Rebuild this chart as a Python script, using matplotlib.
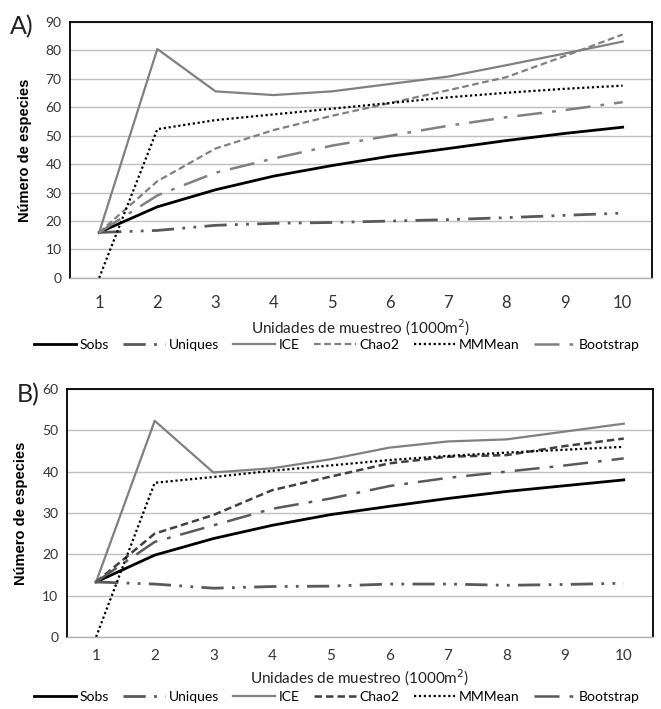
import matplotlib
matplotlib.use("Agg")
import matplotlib.pyplot as plt
import numpy as np

units = [1, 2, 3, 4, 5, 6, 7, 8, 9, 10]
series_names = ["Sobs", "Uniques", "ICE", "Chao2", "MMMean", "Bootstrap"]

# panel A
sobs_a = [16, 25, 31, 35.8, 39.5, 42.8, 45.5, 48.3, 50.8, 53]
uniques_a = [16, 16.7, 18.5, 19.2, 19.5, 20, 20.5, 21.2, 22, 22.8]
ice_a = [16, 80.5, 65.6, 64.3, 65.6, 68.2, 70.8, 74.8, 78.9, 83.1]
chao2_a = [16, 34, 45.5, 52, 57, 61.5, 66, 70.6, 78, 85.6]
mmmean_a = [0, 52.3, 55.5, 57.5, 59.5, 61.5, 63.5, 65.1, 66.5, 67.6]
bootstrap_a = [16, 29, 37, 42, 46.5, 50, 53.5, 56.5, 59, 61.8]

# panel B
sobs_b = [13.3, 19.8, 23.8, 27, 29.6, 31.6, 33.5, 35.2, 36.6, 38]
uniques_b = [13.3, 12.8, 11.8, 12.2, 12.3, 12.8, 12.8, 12.5, 12.7, 13]
ice_b = [13.3, 52.3, 39.8, 40.8, 43, 45.8, 47.3, 47.8, 49.7, 51.6]
chao2_b = [13.3, 25, 29.5, 35.5, 38.8, 42, 43.6, 44, 46.2, 48]
mmmean_b = [0, 37.3, 38.7, 40.2, 41.5, 42.8, 43.8, 44.6, 45.3, 46]
bootstrap_b = [13.3, 23, 27, 31, 33.5, 36.5, 38.5, 40, 41.5, 43.2]

tick_font = "Lato"
label_font = "Liberation Sans"


def draw_panel(ax, data, ymax, styles, xpad, xlabelpad, xsize):
    for name, vals in zip(series_names, data):
        color, ls, lw = styles[name]
        ax.plot(units, vals, color=color, linestyle=ls, linewidth=lw, label=name)
    ax.set_xlim(0.5, 10.5)
    ax.set_ylim(0, ymax)
    ax.set_xticks(units)
    ax.set_yticks(np.arange(0, ymax + 1, 10))
    ax.yaxis.grid(True, color="#c0c0c0", linewidth=1)
    ax.set_axisbelow(True)
    for s in ["top", "left", "right"]:
        ax.spines[s].set_color("black")
        ax.spines[s].set_linewidth(1.3)
    ax.spines["bottom"].set_color("#b0b0b0")
    ax.spines["bottom"].set_linewidth(1)
    ax.tick_params(axis="both", length=0)
    ax.tick_params(axis="x", pad=xpad, labelsize=xsize)
    ax.tick_params(axis="y", pad=6, labelsize=10)
    for lab in ax.get_xticklabels() + ax.get_yticklabels():
        lab.set_fontfamily(tick_font)
        lab.set_color("#333333")
    ax.set_ylabel("Número de especies", fontfamily=label_font, fontweight="bold",
                  fontsize=10.5, labelpad=10)
    ax.set_xlabel("Unidades de muestreo (1000m$^{2}$)", fontfamily=tick_font,
                  fontsize=11, labelpad=xlabelpad, color="#222222")


fig = plt.figure(figsize=(6.61, 7.09), dpi=100)

ax_a = fig.add_axes([0.106, 0.608, 0.880, 0.361])
ax_b = fig.add_axes([0.101, 0.1016, 0.887, 0.3498])

styles_a = {
    "Sobs": ("black", "-", 2.0),
    "Uniques": ("#595959", (0, (8, 3, 1, 3, 1, 3)), 2.0),
    "ICE": ("#808080", "-", 1.6),
    "Chao2": ("#808080", (0, (3, 1.6)), 1.6),
    "MMMean": ("black", (0, (1, 1.2)), 1.6),
    "Bootstrap": ("#808080", (0, (10, 4, 1.5, 4)), 1.8),
}
styles_b = {
    "Sobs": ("black", "-", 2.0),
    "Uniques": ("#595959", (0, (8, 3, 1, 3, 1, 3)), 2.0),
    "ICE": ("#808080", "-", 1.6),
    "Chao2": ("#404040", (0, (3, 1.6)), 1.8),
    "MMMean": ("black", (0, (1, 1.2)), 1.6),
    "Bootstrap": ("#595959", (0, (10, 4, 1.5, 4)), 1.8),
}

draw_panel(ax_a, [sobs_a, uniques_a, ice_a, chao2_a, mmmean_a, bootstrap_a], 90, styles_a,
           12, 5, 12)
draw_panel(ax_b, [sobs_b, uniques_b, ice_b, chao2_b, mmmean_b, bootstrap_b], 60, styles_b,
           9, 3, 11)

for ax, y in [(ax_a, 0.513), (ax_b, 0.017)]:
    handles, labels = ax.get_legend_handles_labels()
    fig.legend(handles, labels, loc="center", bbox_to_anchor=(0.51, y), ncol=6,
               frameon=False, handlelength=3.0, handletextpad=0.25, columnspacing=1.05,
               prop={"family": tick_font, "size": 10})

fig.text(0.015, 0.962, "A)", fontfamily=tick_font, fontsize=18, color="#222222", va="center")
fig.text(0.026, 0.444, "B)", fontfamily=tick_font, fontsize=18, color="#222222", va="center")

fig.savefig("out.png", dpi=100)
